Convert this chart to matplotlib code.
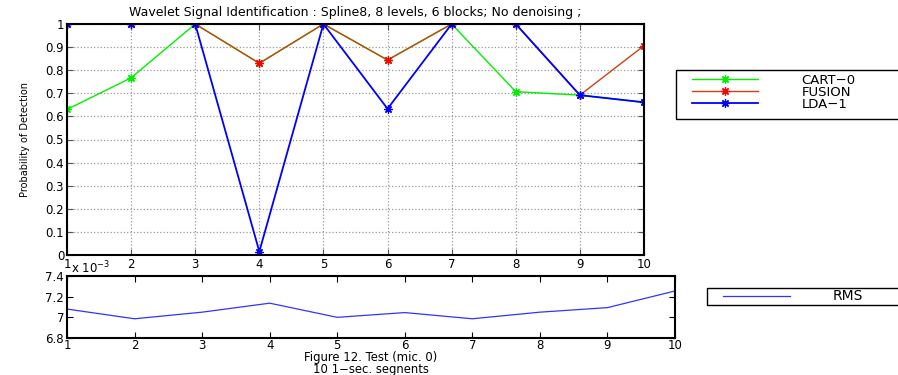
import numpy as np
import matplotlib
matplotlib.use('Agg')
from matplotlib import pyplot as plt
from matplotlib.ticker import FuncFormatter
from matplotlib.patches import Rectangle

# data
tests = [1, 2, 3, 4, 5, 6, 7, 8, 9, 10]
cart0 = [0.63, 0.767, 1.0, 0.83, 1.0, 0.844, 1.0, 0.707, 0.692, 0.661]
fusion = [1.0, 1.0, 1.0, 0.83, 1.0, 0.844, 1.0, 1.0, 0.692, 0.906]
lda1 = [1.0, 1.0, 1.0, 0.015, 1.0, 0.633, 1.0, 1.0, 0.692, 0.661]
rms = [7.08e-3, 6.986e-3, 7.05e-3, 7.137e-3, 7.0e-3, 7.046e-3, 6.986e-3, 7.05e-3, 7.094e-3, 7.255e-3]

series_names = ['CART\u22120', 'FUSION', 'LDA\u22121']
yticks_top = [0, 0.1, 0.2, 0.3, 0.4, 0.5, 0.6, 0.7, 0.8, 0.9, 1]
yticks_bot = [6.8e-3, 7.0e-3, 7.2e-3, 7.4e-3]

plt.rcParams['font.family'] = 'DejaVu Sans'
W, H = 898, 375
fig = plt.figure(figsize=(W / 100, H / 100), dpi=100)

# top plot
ax1 = fig.add_axes([67 / W, 1 - 255 / H, (644 - 67) / W, (255 - 24) / H])
star = (8, 2, 0)
ax1.plot(tests, cart0, color='#00ee00', marker=star, markersize=6, markeredgewidth=0.9, linewidth=1, label=series_names[0])
ax1.plot(tests, fusion, color='#d04010', marker=star, markersize=6, markeredgewidth=0.9, markeredgecolor='red', linewidth=1, label=series_names[1])
ax1.plot(tests, lda1, color='#0000ff', marker=star, markersize=6, markeredgewidth=0.9, linewidth=1.3, label=series_names[2])
ax1.set_xlim(1, 10)
ax1.set_ylim(0, 1)
ax1.set_xticks(tests)
ax1.set_yticks(yticks_top)
ax1.yaxis.set_major_formatter(FuncFormatter(lambda v, p: '%g' % round(v, 1)))
ax1.grid(True, linestyle=':', color='#999999', linewidth=0.9)
ax1.tick_params(direction='in', length=4, top=True, right=True, labelsize=8.5, pad=2, color='#555555')
for s in ax1.spines.values():
    s.set_linewidth(1.5)
ax1.set_title('Wavelet Signal Identification : Spline8, 8 levels, 6 blocks; No denoising ;', fontsize=9, pad=6)
ax1.set_ylabel('Probability of Detection', fontsize=7, labelpad=11)

leg1 = fig.legend(loc='upper left', bbox_to_anchor=(688 / W, 1 - 70 / H), borderaxespad=0,
                  fontsize=9.5, handlelength=5.0, handletextpad=3.3, labelspacing=-0.08,
                  borderpad=0.3, frameon=False)
fig.patches.append(Rectangle((676 / W, 1 - 119 / H), 240 / W, 49 / H, transform=fig.transFigure,
                             fill=False, edgecolor='black', linewidth=1.0))

# bottom plot
ax2 = fig.add_axes([67 / W, 1 - 338 / H, (675 - 67) / W, (338 - 276) / H])
ax2.plot(tests, rms, color='#3333ff', linewidth=0.9, label='RMS')
ax2.set_xlim(1, 10)
ax2.set_ylim(6.8e-3, 7.4e-3)
ax2.set_xticks(tests)
ax2.set_yticks(yticks_bot)
ax2.yaxis.set_major_formatter(FuncFormatter(lambda v, p: '%g' % round(v * 1e3, 1)))
ax2.tick_params(direction='in', length=4, top=True, right=True, labelsize=8.5, pad=2)
ax2.tick_params(axis='x', pad=1)
for s in ax2.spines.values():
    s.set_linewidth(1.5)
ax2.text(0.007, 0.99, r'x 10$^{-3}$', transform=ax2.transAxes, fontsize=8.5, ha='left', va='bottom')
fig.text(371 / W, 1 - 363.5 / H, 'Figure 12. Test (mic. 0)\n10 1\u2212sec. segnents', fontsize=8.4,
         ha='center', va='center', linespacing=0.95)

leg2 = fig.legend(handles=ax2.get_lines(), loc='upper left', bbox_to_anchor=(722 / W, 1 - 288 / H),
                  borderaxespad=0, fontsize=10, handlelength=4.8, handletextpad=3.1,
                  borderpad=0.1, frameon=False)
fig.patches.append(Rectangle((707 / W, 1 - 305 / H), 210 / W, 17 / H, transform=fig.transFigure,
                             fill=False, edgecolor='black', linewidth=1.0))

fig.savefig('out.png', dpi=100)
